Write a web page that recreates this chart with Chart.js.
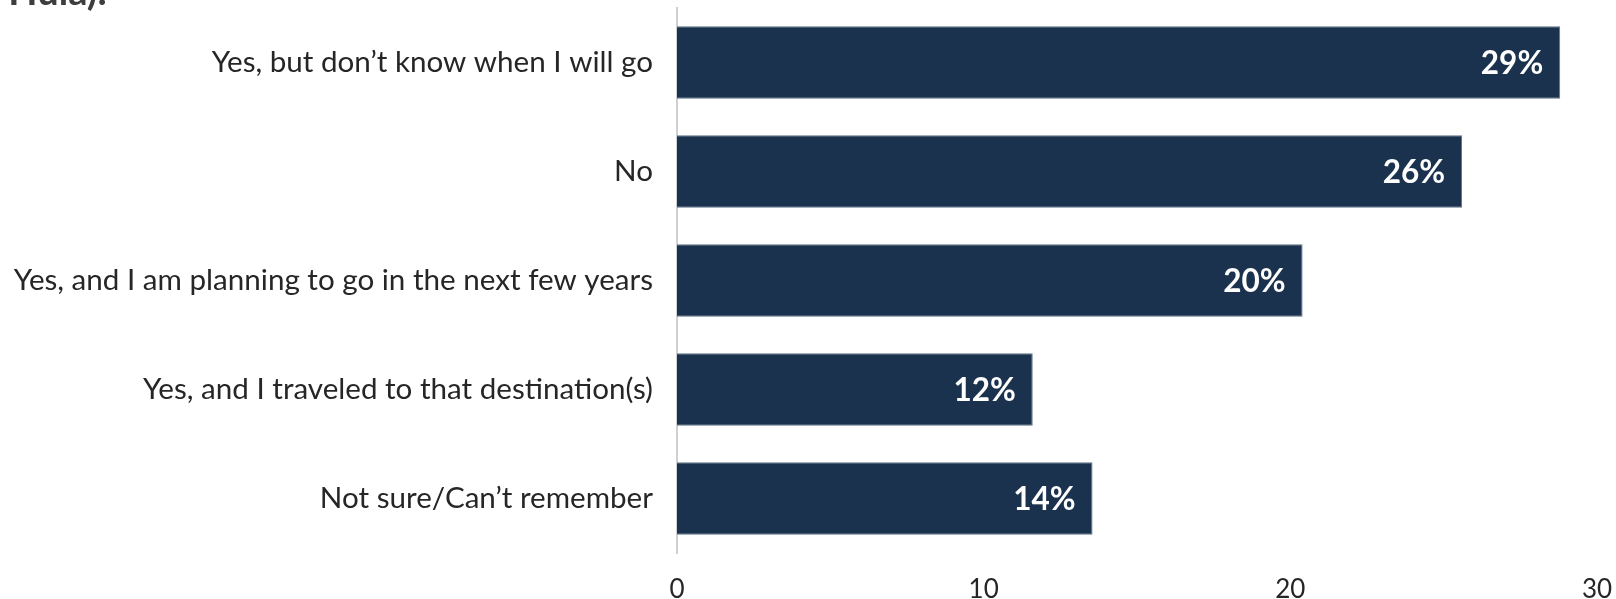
<!DOCTYPE html>
<html>
<head>
<meta charset="utf-8">
<script src="https://cdn.jsdelivr.net/npm/chart.js@4.4.1/dist/chart.umd.min.js"></script>
<style>
  html, body { margin: 0; padding: 0; background: #ffffff; }
  #wrap { width: 1616px; height: 599px; position: relative; }
</style>
</head>
<body>
<div id="wrap"><canvas id="c" width="1616" height="599"></canvas></div>
<script>
const categories = [
  "Yes, but don\u2019t know when I will go",
  "No",
  "Yes, and I am planning to go in the next few years",
  "Yes, and I traveled to that destination(s)",
  "Not sure/Can\u2019t remember"
];
const values = [28.8, 25.6, 20.4, 11.6, 13.55];
const valueLabels = ["29%", "26%", "20%", "12%", "14%"];
const xTicks = [0, 10, 20, 30];
const titleText = "(e.g., Hawaii, Hula):";

const FONT = "Lato, 'Open Sans', sans-serif";

const barLabelPlugin = {
  id: 'barLabels',
  afterDatasetsDraw(chart) {
    const ctx = chart.ctx;
    const meta = chart.getDatasetMeta(0);
    ctx.save();
    ctx.fillStyle = '#ffffff';
    ctx.font = "bold 31.5px " + FONT;
    ctx.textAlign = 'right';
    ctx.textBaseline = 'middle';
    meta.data.forEach((bar, i) => {
      ctx.fillText(valueLabels[i], bar.x - 17, bar.y + 1);
    });
    ctx.restore();
  }
};

const titlePlugin = {
  id: 'cutTitle',
  afterDraw(chart) {
    const ctx = chart.ctx;
    ctx.save();
    ctx.fillStyle = '#3d3d3d';
    ctx.font = "bold 38px " + FONT;
    ctx.textAlign = 'right';
    ctx.textBaseline = 'alphabetic';
    ctx.fillText(titleText, 107, 5);
    ctx.restore();
  }
};

new Chart(document.getElementById('c'), {
  type: 'bar',
  data: {
    labels: categories,
    datasets: [{
      data: values,
      backgroundColor: '#1a324e',
      borderColor: '#5f7189',
      borderWidth: 1,
      borderSkipped: 'left',
      categoryPercentage: 1.0,
      barPercentage: 0.665
    }]
  },
  options: {
    indexAxis: 'y',
    responsive: false,
    animation: false,
    devicePixelRatio: 1,
    layout: { padding: { top: 8, right: 19, left: 0, bottom: 0 } },
    plugins: {
      legend: { display: false },
      tooltip: { enabled: false },
      title: { display: false }
    },
    scales: {
      x: {
        min: 0,
        max: 30,
        afterBuildTicks(scale) { scale.ticks = xTicks.map(v => ({ value: v })); },
        afterFit(scale) { scale.height = 46; scale.paddingLeft = 0; scale.paddingRight = 0; },
        grid: { display: false, drawTicks: false },
        border: { display: false },
        ticks: {
          padding: 21,
          color: '#262626',
          font: { family: FONT, size: 26 },
          maxRotation: 0
        }
      },
      y: {
        afterFit(scale) { scale.width = 677; scale.paddingTop = 0; scale.paddingBottom = 0; },
        grid: { display: false, drawTicks: false },
        border: { display: true, color: '#d0d0d0', width: 2 },
        ticks: {
          padding: 24,
          color: '#262626',
          font: { family: FONT, size: 29.6 }
        }
      }
    }
  },
  plugins: [barLabelPlugin, titlePlugin]
});
</script>
</body>
</html>
